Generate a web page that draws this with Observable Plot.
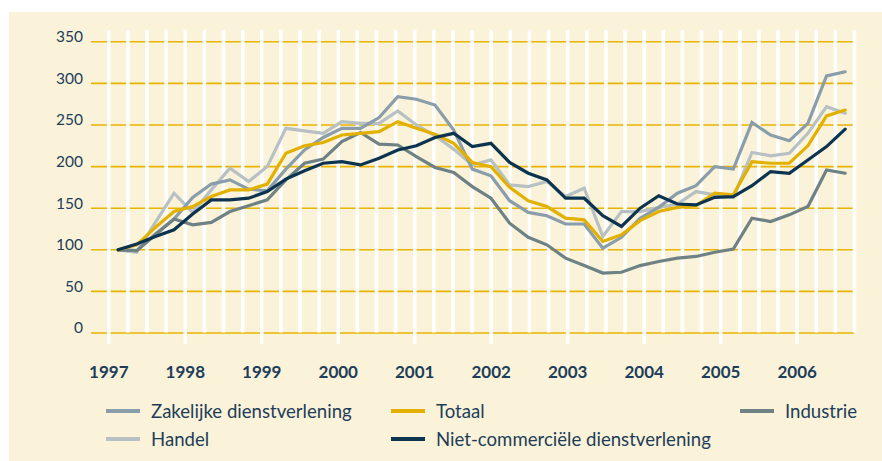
<!DOCTYPE html>
<html>
<head>
<meta charset="utf-8">
<script src="https://cdn.jsdelivr.net/npm/d3@7"></script>
<script src="https://cdn.jsdelivr.net/npm/@observablehq/plot@0.6"></script>
<style>
  html, body { margin: 0; padding: 0; background: #ffffff; }
  #wrap { position: relative; width: 882px; height: 461px; overflow: hidden; background: #ffffff; font-family: Lato, "Noto Sans", sans-serif; }
  #panel { position: absolute; left: 9px; top: 12px; right: 0; bottom: 0; background: #fbf3d9; }
  #chart { position: absolute; left: 0; top: 0; }
  .lg { position: absolute; display: flex; align-items: center; color: #1d3d5a; font-size: 18.6px; white-space: nowrap; }
  .lg .sw { width: 34px; height: 4px; margin-right: 11px; }
</style>
</head>
<body>
<div id="wrap">
  <div id="panel"></div>
  <div id="chart"></div>
  <div id="legend"></div>
</div>
<script>
// ---- data ----
const years = [1997, 1998, 1999, 2000, 2001, 2002, 2003, 2004, 2005, 2006];
const yTicks = [0, 50, 100, 150, 200, 250, 300, 350];
const seriesNames = ["Zakelijke dienstverlening", "Totaal", "Industrie", "Handel", "Niet-commerciële dienstverlening"];
// quarterly values, 1997 Q1 .. 2006 Q4
const zakelijke = [100, 99, 119, 137, 163, 179, 184, 173, 171, 197, 220, 235, 246, 246, 259, 284, 281, 274, 244, 197,
                   189, 159, 145, 141, 131, 131, 102, 115, 138, 151, 168, 177, 200, 197, 253, 238, 231, 252, 309, 314];
const totaal    = [100, 106, 127, 146, 152, 164, 172, 172, 179, 216, 225, 229, 238, 240, 242, 254, 246, 239, 228, 205,
                   200, 175, 159, 152, 138, 136, 110, 118, 135, 146, 151, 153, 168, 166, 206, 204, 204, 225, 261, 268];
const industrie = [100, 99, 118, 137, 130, 133, 146, 153, 160, 184, 204, 209, 230, 241, 227, 226, 212, 199, 193, 176,
                   162, 132, 115, 106, 90, 81, 72, 73, 81, 86, 90, 92, 97, 101, 138, 134, 142, 152, 196, 192];
const handel    = [100, 97, 133, 168, 145, 172, 198, 182, 200, 246, 243, 240, 254, 252, 252, 267, 250, 237, 221, 202,
                   208, 178, 176, 182, 164, 174, 116, 146, 146, 151, 155, 170, 166, 163, 217, 213, 216, 240, 272, 264];
const nietCommercieel = [100, 107, 116, 124, 143, 160, 160, 162, 170, 185, 195, 204, 206, 202, 210, 220, 225, 235, 240, 224,
                   228, 205, 192, 184, 162, 162, 141, 128, 150, 165, 155, 154, 163, 164, 177, 194, 192, 208, 224, 245];

// ---- styles ----
const colors = {
  "Zakelijke dienstverlening": "#8a9daa",
  "Totaal": "#e2b100",
  "Industrie": "#6e8184",
  "Handel": "#b7c1c3",
  "Niet-commerciële dienstverlening": "#0c3350"
};
const textColor = "#1d3d5a";

const valuesBySeries = {
  "Zakelijke dienstverlening": zakelijke,
  "Totaal": totaal,
  "Industrie": industrie,
  "Handel": handel,
  "Niet-commerciële dienstverlening": nietCommercieel
};
// 40 quarters spread over the category axis (1997 .. 2006.75)
const span = 9.75, n = 40;
function rowsFor(name) {
  return valuesBySeries[name].map((v, i) => ({series: name, t: years[0] + (i + 0.5) * span / n, value: v}));
}
const quarterLines = d3.range(0, 40).map(k => years[0] + k * 0.25);
const minorLines = quarterLines.filter((d, k) => k % 4 !== 0);
const majorLines = quarterLines.filter((d, k) => k % 4 === 0);

const H = 392;
const drawOrder = ["Handel", "Zakelijke dienstverlening", "Industrie", "Totaal", "Niet-commerciële dienstverlening"];

const chart = Plot.plot({
  width: 882,
  height: H,
  marginLeft: 91,
  marginRight: 28,
  marginTop: 30,
  marginBottom: H - 332.5,
  x: {domain: [1996.774, 2006.75], axis: null},
  y: {domain: [0, 350], range: [332.5, 41.3], axis: null},
  style: {background: "transparent", fontFamily: "Lato, 'Noto Sans', sans-serif", color: textColor},
  marks: [
    Plot.ruleY(yTicks, {y: d => d, stroke: "#e8b400", strokeWidth: 1.6}),
    Plot.ruleX(minorLines, {x: d => d, stroke: "#ffffff", strokeWidth: 3.5}),
    Plot.ruleX(majorLines, {x: d => d, stroke: "#ffffff", strokeWidth: 3.5, insetBottom: -11.5}),
    ...drawOrder.map(name => Plot.line(rowsFor(name), {
      x: "t", y: "value", stroke: colors[name], strokeWidth: 3.2, strokeLinejoin: "miter", strokeMiterlimit: 3
    })),
    Plot.text(yTicks, {
      y: d => d, frameAnchor: "left", text: d => String(d), textAnchor: "end", lineAnchor: "middle",
      dx: -8.5, dy: -4.5, fontSize: 15.5, fill: textColor
    }),
    Plot.text(years, {
      x: d => d, frameAnchor: "bottom", text: d => String(d), lineAnchor: "middle",
      dy: 40, fontSize: 17, fontWeight: "bold", fill: textColor
    })
  ]
});
document.getElementById("chart").appendChild(chart);

// ---- legend ----
const legendPos = [
  {name: "Zakelijke dienstverlening", x: 106, y: 411},
  {name: "Totaal", x: 391, y: 411},
  {name: "Industrie", x: 740, y: 411},
  {name: "Handel", x: 106, y: 439},
  {name: "Niet-commerciële dienstverlening", x: 391, y: 439}
];
const legend = document.getElementById("legend");
legendPos.forEach(p => {
  const el = document.createElement("div");
  el.className = "lg";
  el.style.left = p.x + "px";
  el.style.top = (p.y - 12) + "px";
  el.style.height = "24px";
  const sw = document.createElement("span");
  sw.className = "sw";
  sw.style.background = colors[p.name];
  const tx = document.createElement("span");
  tx.textContent = p.name;
  el.appendChild(sw);
  el.appendChild(tx);
  legend.appendChild(el);
});
</script>
</body>
</html>
